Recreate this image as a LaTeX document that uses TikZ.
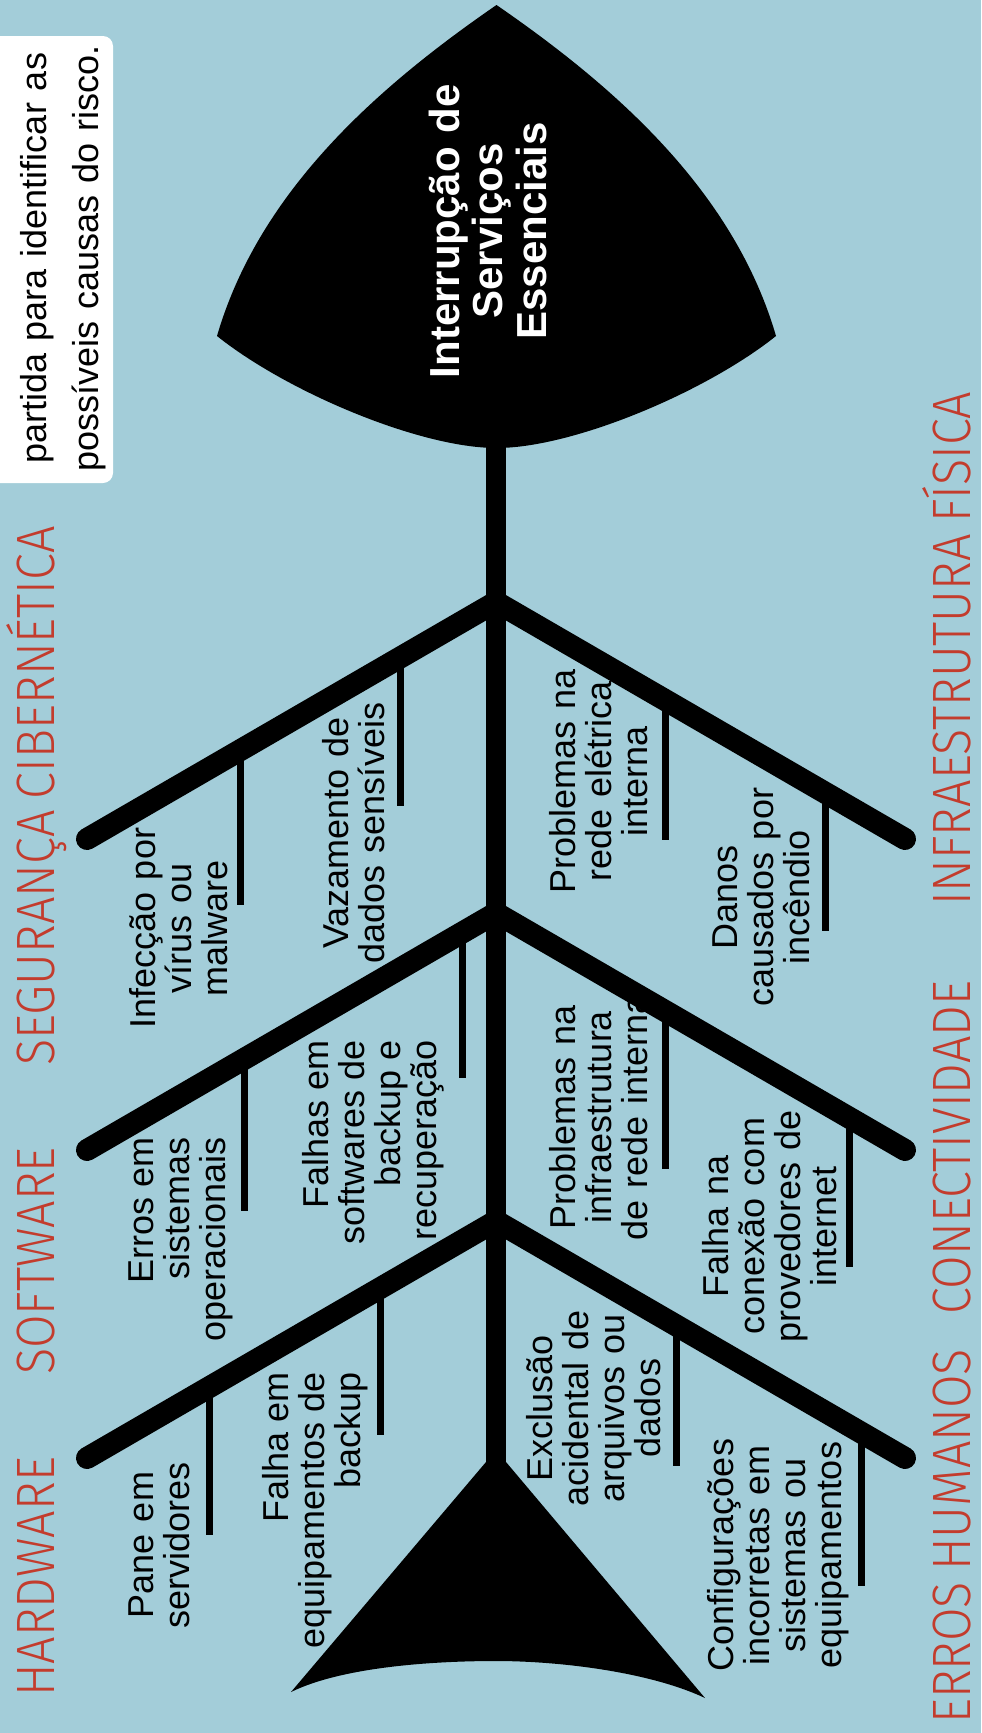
\documentclass[tikz,border=0pt]{standalone}
\usepackage{fontspec}
\setmainfont{Liberation Sans}
\newfontfamily\catfont[FakeStretch=0.9, WordSpace=0.85]{Fira Sans Light}
\usetikzlibrary{calc}
\definecolor{sea}{RGB}{163,205,217}
\definecolor{catred}{RGB}{195,60,45}

\begin{document}
\begin{tikzpicture}[x=1bp, y=-1bp,
  cause/.style={rotate=90, inner sep=0, text width=320bp, align=center,
                anchor=base, font=\fontsize{36bp}{36bp}\selectfont},
  causer/.style={cause, align=flush right, anchor=base east},
  category/.style={rotate=90, inner sep=0, anchor=base west, text=catred,
                   font=\catfont\fontsize{54bp}{54bp}\selectfont},
  bone/.style={line width=22bp, line cap=round, line join=miter},
  tick/.style={line width=7bp}
]
\useasboundingbox (0,0) rectangle (981,1733);
\fill[sea] (0,0) rectangle (981,1733);
% note box
\fill[white, rounded corners=10bp] (-30,36) rectangle (113,483);
\node[cause, text width=440bp, font=\fontsize{36bp}{52bp}\selectfont] (note) at (46,258)
  {partida para identificar as\\possíveis causas do risco.};
% categories
\node[category] (hw) at (54,1697) {HARDWARE};
\node[category] (sw) at (54,1375) {SOFTWARE};
\node[category] (seg) at (54,1066) {SEGURANÇA CIBERNÉTICA};
\node[category] (hum) at (970,1724) {ERROS HUMANOS};
\node[category] (con) at (970,1315) {CONECTIVIDADE};
\node[category] (inf) at (970,906) {INFRAESTRUTURA FÍSICA};
% causes
\node[cause] (infec) at (155,928) {Infecção por\\vírus ou\\malware};
\node[cause] (vaz) at (348,833) {Vazamento de\\dados sensíveis};
\node[cause] (eletr) at (575,781) {Problemas na\\rede elétrica\\interna};
\node[cause] (danos) at (737,897) {Danos\\causados por\\incêndio};
\node[causer] (erros) at (153,1137) {Erros em\\sistemas\\operacionais};
\node[causer] (soft) at (328,1040) {Falhas em\\softwares de\\backup e\\recuperação};
\node[cause] (infra) at (575,1117) {Problemas na\\infraestrutura\\de rede interna};
\node[cause] (conex) at (728,1226) {Falha na\\conexão com\\provedores de\\internet};
\node[cause] (pane) at (153,1545) {Pane em\\servidores};
\node[causer] (equip) at (288,1372) {Falha em\\equipamentos de\\backup};
\node[cause] (exclu) at (552,1408) {Exclusão\\acidental de\\arquivos ou\\dados};
\node[cause] (config) at (733,1555) {Configurações\\incorretas em\\sistemas ou\\equipamentos};
% head
\fill (496.5,5) .. controls (376,88) and (259,192) .. (217,336)
  .. controls (287,392) and (420,448) .. (496.5,448)
  .. controls (573,448) and (706,392) .. (776,336)
  .. controls (734,192) and (617,88) .. cycle;
\node[cause, text=white, font=\bfseries\fontsize{42bp}{43.5bp}\selectfont] (effect)
  at (459,231) {Interrupção de\\Serviços\\Essenciais};
% tail
\fill (486,1462) -- (291,1692) .. controls (342,1667) and (432,1661) .. (496,1661)
  .. controls (560,1661) and (650,1672) .. (705,1698) -- (506,1462) -- cycle;
% spine
\coordinate (neck) at (496,440);
\coordinate (root) at (496,1466);
\draw[line width=20bp] (neck) -- (root);
% bones
\foreach \j/\y in {1/602, 2/913, 3/1221}{
  \coordinate (j\j) at (496,\y);
  \coordinate (l\j) at (87,\y+237);
  \coordinate (r\j) at (905,\y+237);
  \draw[bone] (l\j) -- (j\j) -- (r\j);
}
\foreach \j/\e/\t/\len in {1/l/0.6235/155, 1/l/0.2347/148, 1/r/0.4132/140, 1/r/0.8068/138,
                           2/l/0.6161/152, 2/l/0.0831/145, 2/r/0.4132/158, 2/r/0.8655/149,
                           3/l/0.6993/148, 3/l/0.2812/147, 3/r/0.4401/141, 3/r/0.8924/153}{
  \draw[tick] ($(j\j)!\t!(\e\j)$) -- ++(0,\len);
}
\end{tikzpicture}
\end{document}
